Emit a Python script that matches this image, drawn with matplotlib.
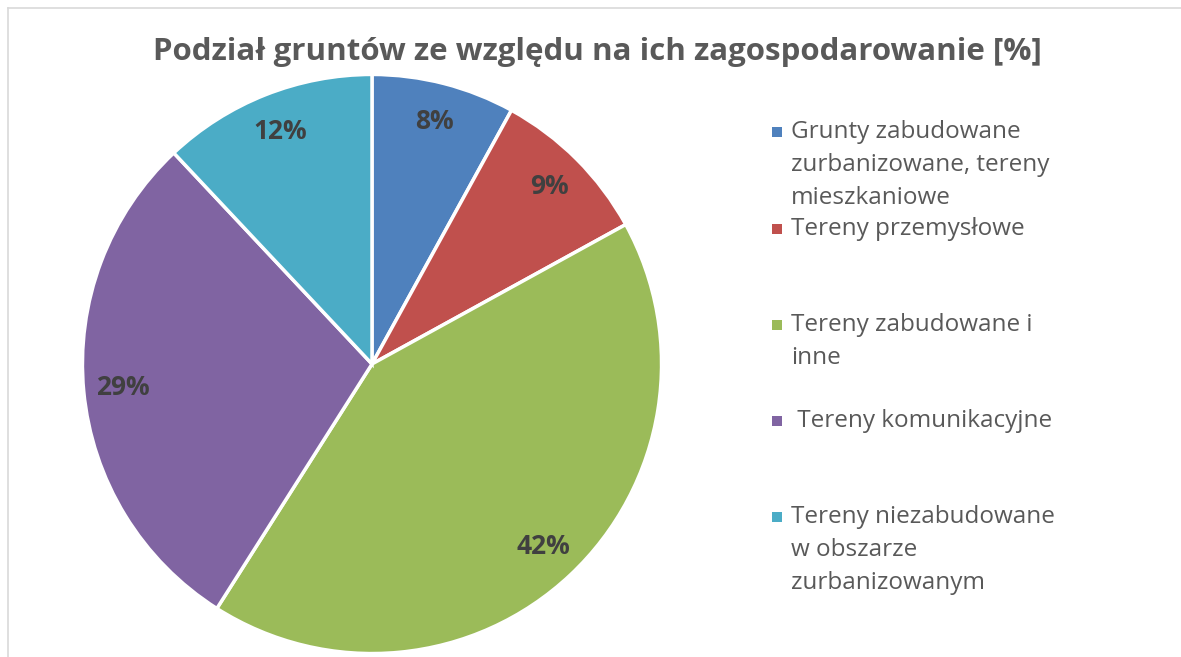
import matplotlib
matplotlib.use("Agg")
import matplotlib.pyplot as plt
from matplotlib.lines import Line2D
from matplotlib.patches import Rectangle

title = "Podział gruntów ze względu na ich zagospodarowanie [%]"
categories = [
    "Grunty zabudowane\nzurbanizowane, tereny\nmieszkaniowe",
    "Tereny przemysłowe",
    "Tereny zabudowane i\ninne",
    " Tereny komunikacyjne",
    "Tereny niezabudowane\nw obszarze\nzurbanizowanym",
]
values = [8, 9, 42, 29, 12]
colors = ["#4F81BD", "#C0504D", "#9BBB59", "#8064A2", "#4BACC6"]

W, H = 1181, 657
fig = plt.figure(figsize=(W / 100, H / 100), dpi=100)
FONT = "Open Sans"

# pie axes
cx, cy, r = 372, 364, 291
ax = fig.add_axes([(cx - r) / W, (H - cy - r) / H, 2 * r / W, 2 * r / H])
wedges, texts, autotexts = ax.pie(
    values, colors=colors, startangle=90, counterclock=False,
    autopct=lambda p: f"{p:.0f}%", pctdistance=0.865,
    wedgeprops=dict(edgecolor="white", linewidth=2.5),
    textprops=dict(fontsize=19, fontweight="bold", color="#404040", family=FONT),
)
ax.set_xlim(-1.005, 1.005)
ax.set_ylim(-1.005, 1.005)
ax.set_aspect("equal")
ax.axis("off")

fig.text(597 / W, 1 - 52 / H, title, ha="center", va="center",
         fontsize=22.5, fontweight="bold", color="#595959", family=FONT)

# legend
first_y = [132, 229, 325, 421, 517]
line_h = 33
for lab, col, y0 in zip(categories, colors, first_y):
    sq = Rectangle((772 / W, 1 - (y0 + 5) / H), 10 / W, 10 / H,
                   transform=fig.transFigure, facecolor=col, edgecolor="none")
    fig.patches.append(sq)
    for i, line in enumerate(lab.split("\n")):
        fig.text(791 / W, 1 - (y0 + i * line_h) / H, line, ha="left", va="center",
                 fontsize=17.5, color="#595959", family=FONT)

# chart border (left and top visible)
fig.add_artist(Line2D([7.5 / W, 7.5 / W], [0, 1 - 7.5 / H], transform=fig.transFigure,
                      color="#D9D9D9", linewidth=1.2))
fig.add_artist(Line2D([7.5 / W, 1], [1 - 7.5 / H, 1 - 7.5 / H], transform=fig.transFigure,
                      color="#D9D9D9", linewidth=1.2))

fig.savefig("out.png", dpi=100, facecolor="white")
